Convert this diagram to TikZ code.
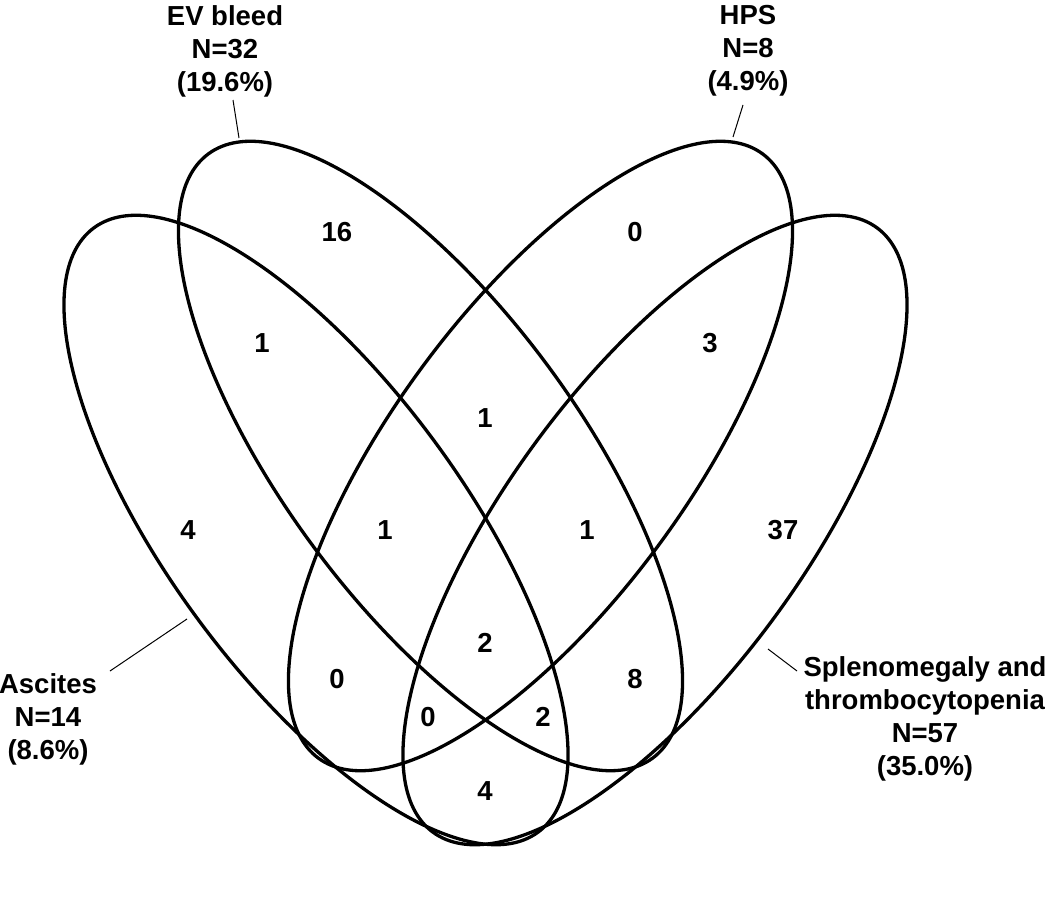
\documentclass[tikz,border=0pt]{standalone}
\usepackage{fontspec}
\setmainfont{Liberation Sans}
\begin{document}
\begin{tikzpicture}[x=1pt,y=1pt,
  venn/.style={line width=3.3pt, draw=black},
  lead/.style={line width=1pt, draw=black},
  num/.style={font=\fontsize{27.5}{33}\selectfont\bfseries, inner sep=0pt},
  lab/.style={font=\fontsize{27.5}{33}\selectfont\bfseries, align=center, inner sep=0pt}]
\useasboundingbox (0,0) rectangle (1050,-902);
\fill[white] (0,0) rectangle (1050,-902);
% ellipse centres
\coordinate (cA) at (316,-530);
\coordinate (cB) at (430.5,-456);
\coordinate (cC) at (540.5,-456);
\coordinate (cD) at (655,-530);
% ellipses
\draw[venn, rotate around={-53.7:(cA)}] (cA) ellipse [x radius=375, y radius=148];
\draw[venn, rotate around={-53.7:(cB)}] (cB) ellipse [x radius=375, y radius=148];
\draw[venn, rotate around={53.7:(cC)}] (cC) ellipse [x radius=375, y radius=148];
\draw[venn, rotate around={53.7:(cD)}] (cD) ellipse [x radius=375, y radius=148];
% region counts
\node[num] (r16) at (337,-232) {16};
\node[num] (r0a) at (635,-232) {0};
\node[num] (r1a) at (262,-343) {1};
\node[num] (r3)  at (710,-343) {3};
\node[num] (r1b) at (485,-418) {1};
\node[num] (r4a) at (188,-530) {4};
\node[num] (r1c) at (385,-530) {1};
\node[num] (r1d) at (587,-530) {1};
\node[num] (r37) at (783,-530) {37};
\node[num] (r2a) at (485,-643) {2};
\node[num] (r0b) at (337,-679) {0};
\node[num] (r8)  at (635,-679) {8};
\node[num] (r0c) at (428,-717) {0};
\node[num] (r2b) at (543,-717) {2};
\node[num] (r4b) at (485,-791) {4};
% set labels
\node[lab] (lEV) at (225,-51) {EV bleed\\N=32\\(19.6\%)};
\node[lab] (lHPS) at (748,-51) {HPS\\N=8\\(4.9\%)};
\node[lab] (lAsc) at (48,-719) {Ascites\\N=14\\(8.6\%)};
\node[lab] (lSpl) at (925,-719) {Splenomegaly and\\thrombocytopenia\\N=57\\(35.0\%)};
% leader lines
\coordinate (sEV) at (233,-100);  \coordinate (eEV) at (239,-138);
\coordinate (sHPS) at (743,-105); \coordinate (eHPS) at (733,-137);
\coordinate (sAsc) at (110,-671); \coordinate (eAsc) at (187,-619);
\coordinate (sSpl) at (797,-671); \coordinate (eSpl) at (768,-649);
\draw[lead] (sEV) -- (eEV);
\draw[lead] (sHPS) -- (eHPS);
\draw[lead] (sAsc) -- (eAsc);
\draw[lead] (sSpl) -- (eSpl);
\end{tikzpicture}
\end{document}
